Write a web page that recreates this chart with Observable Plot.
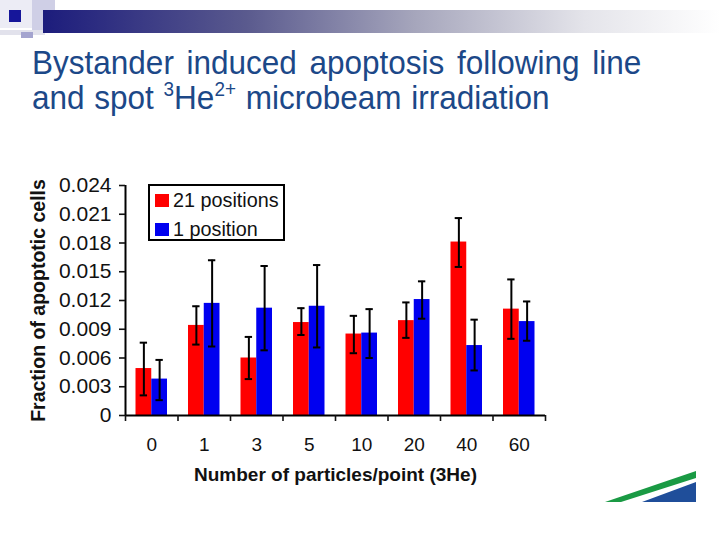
<!DOCTYPE html>
<html>
<head>
<meta charset="utf-8">
<script src="https://cdn.jsdelivr.net/npm/d3@7"></script>
<script src="https://cdn.jsdelivr.net/npm/@observablehq/plot@0.6"></script>
<style>
  body { margin: 0; background: #fff; }
  #wrap { position: relative; width: 720px; height: 540px; overflow: hidden; background: #fff; font-family: "Liberation Sans", Arial, sans-serif; }
  .abs { position: absolute; }
  #title { position: absolute; left: 32px; top: 45px; font-size: 33px; line-height: 35px; color: #1c4888; white-space: nowrap; transform: scaleX(0.955); transform-origin: left top; word-spacing: 1px; }
  #title .l1 { word-spacing: 4px; }
  .sup { font-size: 0.6em; position: relative; top: -0.66em; }
  #chart { position: absolute; left: 0; top: 160px; }
  #legend { position: absolute; left: 148px; top: 184px; width: 137px; height: 57px; box-sizing: border-box; border: 2px solid #000; background: #fff; }
  #legend .sw { position: absolute; width: 14px; height: 13px; }
  #legend .lt { position: absolute; font-size: 19.8px; line-height: 20px; color: #111; white-space: nowrap; }
</style>
</head>
<body>
<div id="wrap">
  <!-- top decoration -->
  <div class="abs" style="left:0;top:0;width:32px;height:28px;background:#ececf5"></div>
  <div class="abs" style="left:32px;top:0;width:23px;height:32px;background:#cfcfe6"></div>
  <div class="abs" style="left:0;top:30px;width:45px;height:5px;background:#e2e2ec"></div>
  <div class="abs" style="left:21px;top:32px;width:12px;height:6px;background:#a4a4cf"></div>
  <div class="abs" style="left:43px;top:10px;width:677px;height:23px;background:linear-gradient(to right,#1c1c7c 0%,#5a5a8e 30%,#a6a6bc 55%,#e4e4ea 80%,#ffffff 100%)"></div>
  <div class="abs" style="left:9px;top:10px;width:12px;height:12px;background:#16169a"></div>

  <div id="title"><span class="l1">Bystander induced apoptosis following line</span><br>and spot <span class="sup">3</span>He<span class="sup">2+</span> microbeam irradiation</div>

  <div id="chart"></div>

  <div id="legend">
    <div class="sw" style="left:5px;top:8px;background:#ff0000"></div>
    <div class="lt" style="left:23px;top:4px">21 positions</div>
    <div class="sw" style="left:5px;top:37px;background:#0000f0"></div>
    <div class="lt" style="left:23px;top:33px">1 position</div>
  </div>

  <svg class="abs" style="left:0;top:0" width="720" height="540">
    <polygon points="605,502 696,471 696,478 621,502" fill="#1a9a44"></polygon>
    <polygon points="642,502 696,482 696,502" fill="#1f4e9a"></polygon>
  </svg>
</div>
<script>
const categories = ["0", "1", "3", "5", "10", "20", "40", "60"];
const series = ["21 positions", "1 position"];
const red    = [0.0049, 0.0094, 0.0060, 0.0097, 0.0085, 0.0099, 0.0181, 0.0111];
const redLo  = [0.0021, 0.0074, 0.0038, 0.0084, 0.0065, 0.0081, 0.0155, 0.0080];
const redHi  = [0.0076, 0.0114, 0.0082, 0.0112, 0.0104, 0.0118, 0.0206, 0.0142];
const blue   = [0.0038, 0.0117, 0.0112, 0.0114, 0.0086, 0.0121, 0.0073, 0.0098];
const blueLo = [0.0016, 0.0072, 0.0068, 0.0071, 0.0060, 0.0101, 0.0047, 0.0078];
const blueHi = [0.0058, 0.0162, 0.0156, 0.0157, 0.0111, 0.0140, 0.0100, 0.0119];
const yTicks = [0, 0.003, 0.006, 0.009, 0.012, 0.015, 0.018, 0.021, 0.024];
const xLabel = "Number of particles/point (3He)";
const yLabel = "Fraction of apoptotic cells";

const rows = categories.flatMap((c, i) => [
  {cat: c, i, s: series[0], k: 0, v: red[i], lo: redLo[i], hi: redHi[i]},
  {cat: c, i, s: series[1], k: 1, v: blue[i], lo: blueLo[i], hi: blueHi[i]}
]);
const center = d => d.i + 0.35 + 0.3 * d.k;

const chart = Plot.plot({
  width: 720,
  height: 340,
  marginLeft: 125,
  marginRight: 175,
  marginTop: 25,
  marginBottom: 85,
  style: {fontFamily: "'Liberation Sans', Arial, sans-serif", color: "#111", background: "transparent", overflow: "visible"},
  x: {domain: [0, categories.length]},
  y: {domain: [0, 0.024]},
  color: {domain: series, range: ["#ff0000", "#0000f0"]},
  marks: [
    Plot.rectY(rows, {x1: d => d.i + 0.2 + 0.3 * d.k, x2: d => d.i + 0.5 + 0.3 * d.k, y1: 0, y2: "v", fill: "s"}),
    Plot.ruleX(rows, {x: center, y1: "lo", y2: "hi", stroke: "#000", strokeWidth: 2}),
    Plot.ruleY(rows, {y: "hi", x1: d => center(d) - 0.07, x2: d => center(d) + 0.07, stroke: "#000", strokeWidth: 2}),
    Plot.ruleY(rows, {y: "lo", x1: d => center(d) - 0.07, x2: d => center(d) + 0.07, stroke: "#000", strokeWidth: 2}),
    Plot.ruleX([0], {y1: 0, y2: 0.024, stroke: "#000", strokeWidth: 2}),
    Plot.ruleY([0], {x1: 0, x2: categories.length, stroke: "#000", strokeWidth: 2}),
    Plot.axisY(yTicks, {tickSize: 6, tickPadding: 8, strokeWidth: 1.6, fontSize: 21, tickFormat: d => d === 0 ? "0" : d.toFixed(3), label: null}),
    Plot.axisX(d3.range(0, categories.length + 1), {tickSize: 6, strokeWidth: 1.6, tickFormat: () => "", label: null}),
    Plot.axisX(categories.map((c, i) => i + 0.5), {tickSize: 0, tickPadding: 22, fontSize: 19, tickFormat: d => categories[Math.round(d - 0.5)], label: null}),
    Plot.text([xLabel], {frameAnchor: "bottom", dy: 65, fontWeight: "bold", fontSize: 19, fill: "#111"}),
    Plot.text([yLabel], {frameAnchor: "left", textAnchor: "middle", dx: -87, rotate: -90, fontWeight: "bold", fontSize: 19.5, fill: "#111"})
  ]
});
document.getElementById("chart").appendChild(chart);
</script>
</body>
</html>
